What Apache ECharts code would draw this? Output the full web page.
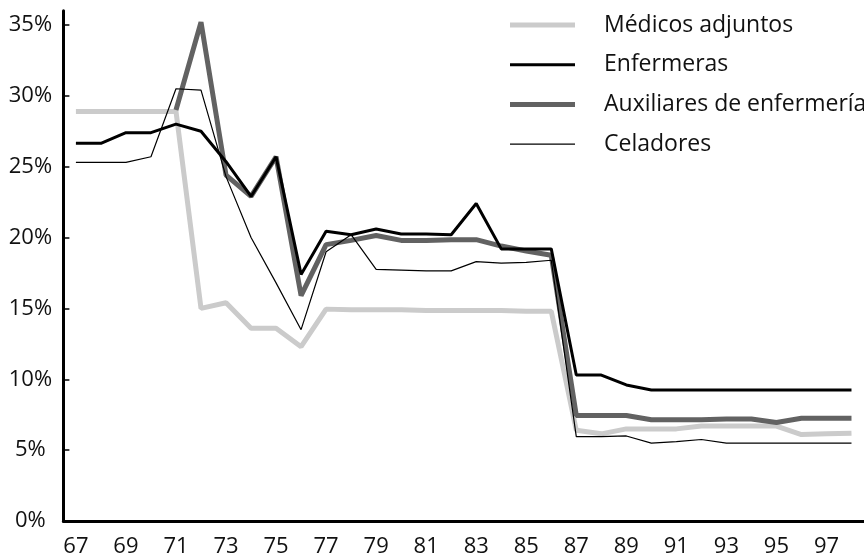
<!DOCTYPE html>
<html>
<head>
    <meta charset="UTF-8">
    <title>Plantilla</title>
    <script src="https://cdn.jsdelivr.net/npm/echarts@6/dist/echarts.min.js"></script>
    <style>
        html, body { margin: 0; padding: 0; background: #fff; }
        #main { width: 864px; height: 558px; }
    </style>
</head>
<body>
<div id="main"></div>
<script type="text/javascript">

    // años 67..98
    var years = ['67','68','69','70','71','72','73','74','75','76','77','78','79','80','81','82',
                 '83','84','85','86','87','88','89','90','91','92','93','94','95','96','97','98'];

    var medicos = [28.9, 28.9, 28.9, 28.9, 28.9, 15.0, 15.4, 13.6, 13.6, 12.3, 14.95, 14.9, 14.9, 14.9, 14.85, 14.85,
                   14.85, 14.85, 14.8, 14.8, 6.4, 6.15, 6.5, 6.5, 6.5, 6.7, 6.7, 6.7, 6.7, 6.1, 6.15, 6.2];
    var enfermeras = [26.65, 26.65, 27.4, 27.4, 28.0, 27.5, 25.35, 22.9, 25.7, 17.4, 20.45, 20.2, 20.6, 20.25, 20.25, 20.2,
                      22.4, 19.2, 19.2, 19.2, 10.3, 10.3, 9.6, 9.25, 9.25, 9.25, 9.25, 9.25, 9.25, 9.25, 9.25, 9.25];
    var auxiliares = [null, null, null, null, 29.0, 35.2, 24.4, 22.9, 25.7, 15.9, 19.5, 19.8, 20.15, 19.8, 19.8, 19.85,
                      19.85, 19.4, 19.05, 18.75, 7.45, 7.45, 7.45, 7.15, 7.15, 7.15, 7.2, 7.2, 6.95, 7.25, 7.25, 7.25];
    var celadores = [25.3, 25.3, 25.3, 25.7, 30.5, 30.4, 24.3, 20.0, 16.8, 13.5, 19.0, 20.2, 17.75, 17.7, 17.65, 17.65,
                     18.3, 18.2, 18.25, 18.4, 5.95, 5.95, 6.0, 5.5, 5.6, 5.75, 5.5, 5.5, 5.5, 5.5, 5.5, 5.5];

    var yTicks = [0, 5, 10, 15, 20, 25, 30, 35];

    var font = 'Open Sans';
    var myChart = echarts.init(document.getElementById('main'));

    var option = {
        animation: false,
        backgroundColor: '#fff',
        grid: {
            left: 63.4,
            top: 10.8,
            width: 806.4,
            height: 510.2
        },
        legend: {
            orient: 'vertical',
            left: 510,
            top: 13,
            padding: 0,
            itemWidth: 65,
            itemHeight: 14,
            itemGap: 15.7,
            textStyle: {
                fontFamily: font,
                fontSize: 23,
                color: '#111',
                lineHeight: 24,
                padding: [0, 0, 0, 24]
            },
            // iconos de línea simples, sin símbolo
            data: [
                { name: 'Médicos adjuntos', icon: 'path://M0,0H65V5H0Z' },
                { name: 'Enfermeras', icon: 'path://M0,0H65V3H0Z' },
                { name: 'Auxiliares de enfermería', icon: 'path://M0,0H65V5H0Z' },
                { name: 'Celadores', icon: 'path://M0,0H65V1.2H0Z' }
            ]
        },
        xAxis: {
            type: 'category',
            boundaryGap: true,
            data: years,
            axisLine: { lineStyle: { color: '#000', width: 3 } },
            axisTick: { inside: true, length: 6, interval: 0, lineStyle: { color: '#000', width: 1.5 } },
            axisLabel: { interval: 1, margin: 15, fontFamily: font, fontSize: 22, color: '#111' },
            splitLine: { show: false }
        },
        yAxis: {
            type: 'value',
            min: 0,
            max: 36,
            axisLine: { show: true, lineStyle: { color: '#000', width: 3 } },
            axisTick: { show: true, inside: true, length: 6, customValues: yTicks, lineStyle: { color: '#000', width: 1.5 } },
            axisLabel: {
                customValues: yTicks,
                margin: 33,
                align: 'center',
                fontFamily: font,
                fontSize: 22,
                color: '#111',
                formatter: '{value}%'
            },
            splitLine: { show: false }
        },
        series: [
            {
                name: 'Médicos adjuntos',
                type: 'line',
                data: medicos,
                symbol: 'none',
                z: 1,
                lineStyle: { color: '#cbcbcb', width: 5 },
                itemStyle: { color: '#cbcbcb' }
            },
            {
                name: 'Auxiliares de enfermería',
                type: 'line',
                data: auxiliares,
                symbol: 'none',
                z: 2,
                lineStyle: { color: '#626262', width: 5 },
                itemStyle: { color: '#626262' }
            },
            {
                name: 'Enfermeras',
                type: 'line',
                data: enfermeras,
                symbol: 'none',
                z: 3,
                lineStyle: { color: '#000', width: 3 },
                itemStyle: { color: '#000' }
            },
            {
                name: 'Celadores',
                type: 'line',
                data: celadores,
                symbol: 'none',
                z: 4,
                lineStyle: { color: '#000', width: 1.2 },
                itemStyle: { color: '#000' }
            }
        ]
    };

    myChart.setOption(option);
</script>
</body>
</html>
